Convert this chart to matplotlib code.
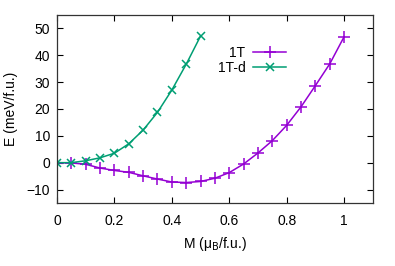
import numpy as np
import matplotlib.pyplot as plt

plt.rcParams['font.family'] = ['Liberation Sans', 'DejaVu Sans']

m_1t = [0.0, 0.05, 0.1, 0.15, 0.2, 0.25, 0.3, 0.35, 0.4, 0.45, 0.5,
        0.55, 0.6, 0.65, 0.7, 0.75, 0.8, 0.85, 0.9, 0.95, 1.0]
e_1t = [0.0, -0.1, -0.6, -2.0, -2.9, -3.6, -4.9, -6.1, -7.2, -7.4, -7.0,
        -5.8, -3.7, -0.5, 3.6, 8.2, 13.9, 20.8, 28.7, 36.8, 46.9]

m_1td = [0.0, 0.05, 0.1, 0.15, 0.2, 0.25, 0.3, 0.35, 0.4, 0.45, 0.5]
e_1td = [0.0, 0.0, 0.7, 1.8, 3.5, 7.0, 12.1, 18.7, 27.0, 36.6, 47.1]

fig = plt.figure(figsize=(3.95, 2.66), dpi=100)
ax = fig.add_axes([0.144, 0.237, 0.8, 0.707])

ax.plot(m_1t, e_1t, color='#9400d3', lw=1.1, marker='+', ms=8, mew=1.1, label='1T')
ax.plot(m_1td, e_1td, color='#009e73', lw=1.1, marker='x', ms=6, mew=1.1, label='1T-d')

ax.set_xlim(0, 1.1)
ax.set_ylim(-15, 55)
ax.set_xticks([0, 0.2, 0.4, 0.6, 0.8, 1])
ax.set_xticklabels(['0', '0.2', '0.4', '0.6', '0.8', '1'])
ax.set_yticks(np.arange(-10, 51, 10))
ax.tick_params(direction='in', top=True, right=True, length=4, width=0.8,
               labelsize=10)
ax.tick_params(axis='x', pad=8)
ax.tick_params(axis='y', pad=5)
for s in ax.spines.values():
    s.set_linewidth(0.9)
    s.set_color('#333333')

ax.set_xlabel('M (μ$_\\mathrm{B}$/f.u.)', fontsize=10, labelpad=5)
ax.set_ylabel('E (meV/f.u.)', fontsize=10, labelpad=6)

ax.legend(loc='upper right', bbox_to_anchor=(0.748, 0.87), frameon=False,
          fontsize=10, markerfirst=False, handlelength=2.4,
          handletextpad=0.55, labelspacing=0.05, borderpad=0)

fig.savefig('out.png', dpi=100)
